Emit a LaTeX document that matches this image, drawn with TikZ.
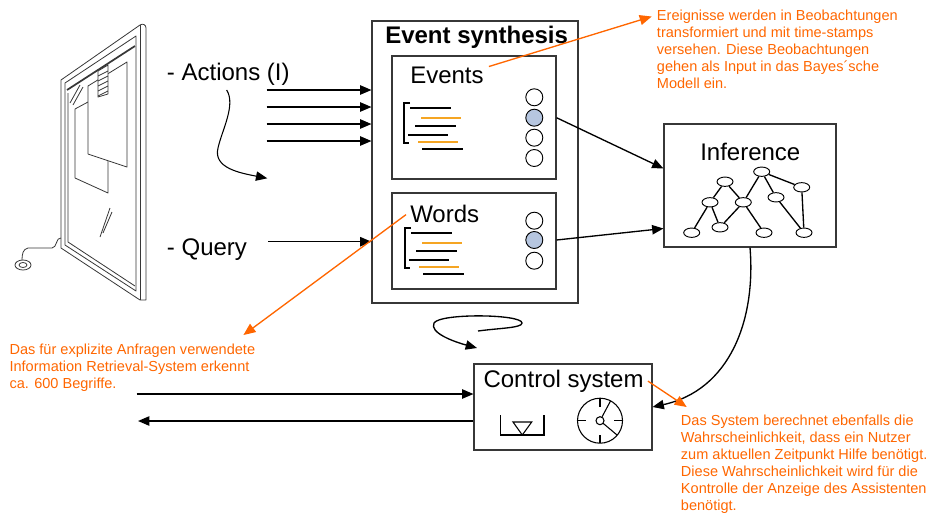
\documentclass[tikz,border=0pt]{standalone}
\usepackage{fontspec}
\setmainfont{Liberation Sans}
\usepackage{tikz}
\usetikzlibrary{positioning,calc,fit,shapes.geometric,arrows.meta}
\definecolor{noteorange}{RGB}{255,102,0}
\definecolor{listorange}{RGB}{245,165,35}
\definecolor{slotblue}{RGB}{182,198,224}
\definecolor{framegray}{RGB}{55,55,55}
\tikzstyle{block} = [draw=framegray,line width=0.8pt,inner sep=0pt]
\tikzstyle{heading} = [inner sep=0pt,anchor=base west,font=\fontsize{18}{21}\selectfont]
\tikzstyle{line} = [-{Triangle[length=8.5pt,width=7pt]},line width=1pt]
\tikzstyle{note} = [inner sep=0pt,anchor=north west,align=left,text=noteorange,font=\fontsize{10.9}{12.75}\selectfont]
\tikzstyle{noteline} = [-{Triangle[length=9pt,width=7.5pt]},draw=noteorange,line width=1pt]
\tikzstyle{slot} = [circle,draw,line width=0.7pt,minimum size=12.75pt,inner sep=0pt]
\tikzstyle{bnode} = [ellipse,draw,line width=0.7pt,fill=white,minimum width=12pt,minimum height=7pt,inner sep=0pt]

\begin{document}
\begin{tikzpicture}[x=0.75pt,y=-0.75pt]
\useasboundingbox (0,0) rectangle (930,515);

% whiteboard
\begin{scope}[draw=framegray,line width=0.6pt,line join=round]
  \draw (61,80) -- (140,25) .. controls (143,23) and (146,25) .. (146,28) -- (146,300) -- (140,300) -- (61,248) -- cycle;
  \draw (140,25) -- (140,300);
  \draw (65,83) -- (136,36) -- (136,291) -- (65,245) -- cycle;
  \draw[line width=1.3pt] (67,90) -- (135,46);
  \draw (68,93) -- (68,242) -- (135,286);
  \draw (88,102) -- (75,109) -- (75,178) -- (108,193) -- (108,161);
  \draw[fill=white] (88,86) -- (127,62) -- (127,167) -- (88,154) -- cycle;
  \draw[fill=white] (98,71) -- (108,65) -- (108,94) -- (98,97) -- cycle;
  \foreach \k in {0,...,4} \draw (98,76+5*\k) -- (108,71+5*\k);
  \draw (70,103) -- (80,85) (73,105) -- (83,87);
  \draw (100,237) -- (110,208) (103,233) -- (112,212);
  \draw (61,238) .. controls (56,237) and (57,248) .. (52,248) -- (28,248) .. controls (23,249) and (22,254) .. (22,260);
  \draw (23,265) ellipse (8 and 5);
  \draw (23,265) ellipse (4 and 2.5);
\end{scope}

% event synthesis
\node[block,fit={(372,21) (578,303)}] (synth) {};
\node[heading,font=\fontsize{18}{21}\selectfont\bfseries] (synthtitle) at (385,43.3) {Event synthesis};

\node[block,fit={(392,56) (556,179)}] (events) {};
\node[heading] (eventstitle) at (410,83.3) {Events};
\foreach \i/\y/\c in {1/97.3/white,2/117.7/slotblue,3/137.7/white,4/158/white}
  \node[slot,fill=\c] (ev\i) at (534.3,\y) {};

\node[block,fit={(392,193) (556,289)}] (words) {};
\node[heading] (wordstitle) at (410,222.3) {Words};
\foreach \i/\y/\c in {1/220.7/white,2/240/slotblue,3/260.7/white}
  \node[slot,fill=\c] (wd\i) at (534.3,\y) {};

% list icons
\foreach \sx/\sy in {404/103,405/228} {
  \begin{scope}[shift={(\sx,\sy)},line width=0.8pt]
    \draw (6,0) -- (0,0) -- (0,40) -- (5,40);
    \draw (6,5) -- (47,5);
    \draw[listorange] (17,15) -- (57,15);
    \draw (11,23) -- (52,23);
    \draw (4,32) -- (44,32);
    \draw[listorange] (14,39) -- (54,39);
    \draw (18,46) -- (59,46);
  \end{scope}
}

% inference
\node[block,fit={(664,124) (836,247)}] (infer) {};
\node[heading] (infertitle) at (700,160.7) {Inference};
\foreach \n/\x/\y in {1/761.7/171.7,2/725/181.7,3/801.7/187.3,4/710/202.3,5/743.3/202.3,
                      6/776/197.3,7/691.7/232.7,8/720/227.3,9/764/232.7,10/804/232.7}
  \node[bnode] (g\n) at (\x,\y) {};
\foreach \a/\b in {2/4,2/5,4/7,4/8,5/8,5/9,5/1,1/6,1/3,6/10,3/10}
  \draw[line width=1pt] (g\a) -- (g\b);

% control system
\node[block,fit={(474,364) (652,450)}] (control) {};
\node[heading] (controltitle) at (483.3,387.3) {Control system};
\draw[line width=0.8pt] (500.7,415) -- (500.7,435) -- (544,435) -- (544,415);
\draw[line width=0.8pt] (513,422) -- (531.7,422) -- (522.3,435) -- cycle;
\coordinate (dial) at (600,420.7);
\draw[line width=0.8pt] (dial) circle (22.5);
\foreach \a in {0,90,180,270}
  \draw[line width=0.8pt] ($(dial)+(\a:22.5)$) -- ($(dial)+(\a:14)$);
\draw[line width=0.8pt] (dial) circle (4);
\draw[line width=0.8pt] ($(dial)+(40:4)$) -- ($(dial)+(40:22.5)$);
\draw[line width=0.8pt] ($(dial)+(-62:4)$) -- ($(dial)+(-62:22.5)$);

% inputs
\node[heading] (actions) at (166.7,80.5) {- Actions (I)};
\node[heading] (query) at (166.7,255.5) {- Query};
\foreach \y [count=\i] in {90,107,124,141} {
  \coordinate (act\i) at (266.7,\y);
  \draw[line] (act\i) -- (synth.west |- act\i);
}
\coordinate (qry) at (268,241.7);
\draw[line] (qry) -- (synth.west |- qry);
\coordinate (wavestart) at (226.7,90);
\coordinate (waveend) at (267.3,178.3);
\draw[line,line width=0.8pt] (wavestart) .. controls (236,105) and (222,130) .. (218,148) .. controls (213,168) and (240,173) .. (waveend);

% flow between blocks
\draw[line] (events.east |- ev2) -- ($(infer.west)+(0,-17)$);
\draw[line] (words.east |- wd2) -- ($(infer.west)+(0,43)$);
\draw[line] (infer.south) .. controls (756,320) and (730,390) .. (control.east);
\coordinate (loopstart) at (478,331);
\coordinate (loopend) at (477,348);
\draw[line] (loopstart) .. controls (500,328) and (522,328) .. (522,323) .. controls (522,314) and (440,313) .. (434,323) .. controls (429,333) and (455,342) .. (loopend);
\coordinate (cin) at (136.7,394);
\draw[line] (cin) -- (control.west |- cin);
\coordinate (cout) at (138,421);
\draw[line] (control.west |- cout) -- (cout);

% notes
\node[note] (noteevents) at (656.7,9.5) {Ereignisse werden in Beobachtungen\\transformiert und mit time-stamps\\versehen. Diese Beobachtungen\\gehen als Input in das Bayes´sche\\Modell ein.};
\node[note] (notequery) at (9.3,344) {Das für explizite Anfragen verwendete\\Information Retrieval-System erkennt\\ca. 600 Begriffe.};
\node[note] (notecontrol) at (680.7,414.5) {Das System berechnet ebenfalls die\\Wahrscheinlichkeit, dass ein Nutzer\\zum aktuellen Zeitpunkt Hilfe benötigt.\\Diese Wahrscheinlichkeit wird für die\\Kontrolle der Anzeige des Assistenten\\benötigt.};
\draw[noteline] ($(eventstitle.north east)+(5,0)$) -- ($(noteevents.north west)+(-5,7)$);
\draw[noteline] ($(wordstitle.north west)+(-4,10)$) -- ($(notequery.north east)+(-12,-9)$);
\draw[noteline] ($(controltitle.east)+(4,0)$) -- ($(notecontrol.north west)+(6,-7.5)$);
\end{tikzpicture}
\end{document}
